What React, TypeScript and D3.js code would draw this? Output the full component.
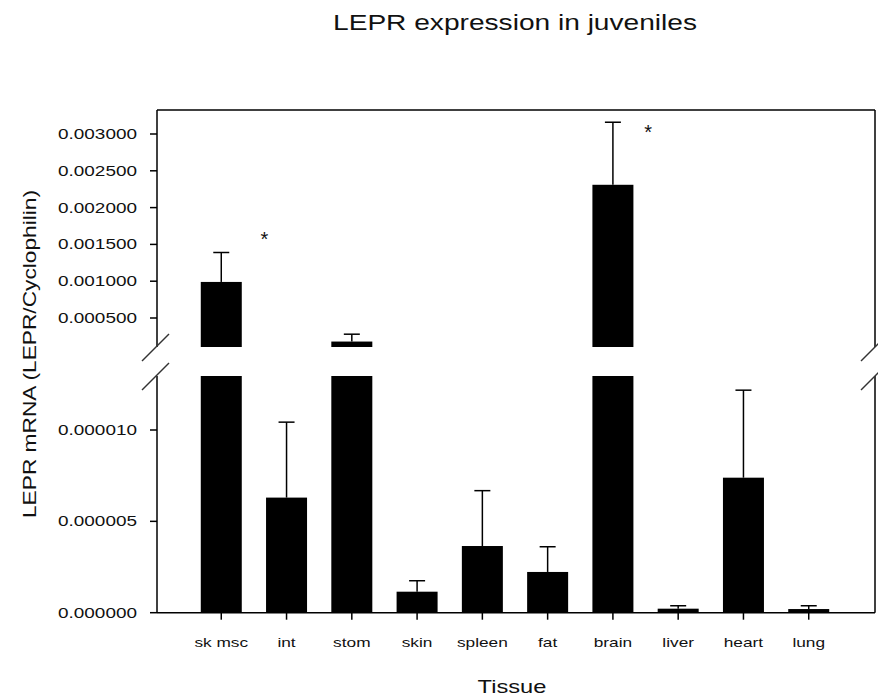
import React from "react";
import * as d3 from "d3";

// Tissue categories and LEPR/Cyclophilin ratios (mean and SEM)
const tissues = ["sk msc", "int", "stom", "skin", "spleen", "fat", "brain", "liver", "heart", "lung"];
const means = [0.00099, 6.3e-6, 0.00018, 1.15e-6, 3.65e-6, 2.23e-6, 0.00231, 0.22e-6, 7.39e-6, 0.2e-6];
const sems = [0.0004, 4.13e-6, 0.0001, 0.6e-6, 3.03e-6, 1.38e-6, 0.00085, 0.16e-6, 4.79e-6, 0.18e-6];

// Axis ticks for the two segments of the broken y axis
const upperTicks = [0.0005, 0.001, 0.0015, 0.002, 0.0025, 0.003];
const upperTickLabels = ["0.000500", "0.001000", "0.001500", "0.002000", "0.002500", "0.003000"];
const lowerTicks = [0, 0.000005, 0.00001];
const lowerTickLabels = ["0.000000", "0.000005", "0.000010"];

// Significance markers: category, horizontal offset in steps, value height
const starCats = ["sk msc", "brain"];
const starOffsets = [0.66, 0.54];
const starValues = [0.00164, 0.00309];

const W = 878;
const H = 698;
const left = 157;
const right = 875;
const top = 110;
const upperBottom = 347;
const lowerTop = 376;
const baseY = 612.7;
const font = "'Liberation Sans', Arial, sans-serif";
const stretch = 1.28;

export default function App() {
  const x = d3.scalePoint<string>().domain(tissues).range([156, 874]).padding(1);
  const yUpper = d3.scaleLinear().domain([0, 0.003]).range([354.8, 134]);
  const yLower = d3.scaleLinear().domain([0, 0.00001]).range([baseY, 430]);
  const upperMin = yUpper.invert(upperBottom);
  const lowerMax = yLower.invert(lowerTop);
  const barW = 41;
  const capW = 16;

  const slash = (cx: number, cy: number, key: string) => (
    <line key={key} x1={cx - 14} y1={cy + 14} x2={cx + 13} y2={cy - 13} stroke="#333" strokeWidth={1.5} />
  );

  return (
    <svg width={W} height={H} style={{ position: "absolute", left: 0, top: 0, background: "#fff" }}>
      <rect x={0} y={0} width={W} height={H} fill="#fff" />
      {/* Title */}
      <text x={515} y={30} fontFamily={font} fontSize={22} fill="#111" textAnchor="middle"
        textLength={364} lengthAdjust="spacingAndGlyphs">
        LEPR expression in juveniles
      </text>

      {/* Bars */}
      {tissues.map((t, i) => {
        const v = means[i];
        const e = v + sems[i];
        const cx = x(t)!;
        const parts: React.ReactNode[] = [];
        // lower segment
        const lTop = v > lowerMax ? lowerTop : yLower(v);
        parts.push(<rect key="l" x={cx - barW / 2} y={lTop} width={barW} height={baseY - lTop} fill="#000" />);
        // upper segment
        if (v > upperMin) {
          const uTop = yUpper(v);
          parts.push(<rect key="u" x={cx - barW / 2} y={uTop} width={barW} height={upperBottom - uTop} fill="#000" />);
          const eY = yUpper(e);
          parts.push(<line key="s" x1={cx} x2={cx} y1={uTop} y2={eY} stroke="#000" strokeWidth={1.5} />);
          parts.push(<line key="c" x1={cx - capW / 2} x2={cx + capW / 2} y1={eY} y2={eY} stroke="#000" strokeWidth={1.5} />);
        } else {
          const eY = yLower(e);
          parts.push(<line key="s" x1={cx} x2={cx} y1={lTop} y2={eY} stroke="#000" strokeWidth={1.5} />);
          parts.push(<line key="c" x1={cx - capW / 2} x2={cx + capW / 2} y1={eY} y2={eY} stroke="#000" strokeWidth={1.5} />);
        }
        return <g key={t}>{parts}</g>;
      })}

      {/* Frame and broken axes */}
      <g stroke="#000" strokeWidth={1.5} fill="none">
        <line x1={left} x2={right} y1={top} y2={top} />
        <line x1={left} x2={left} y1={top} y2={upperBottom} />
        <line x1={right} x2={right} y1={top} y2={upperBottom} />
        <line x1={left} x2={left} y1={lowerTop} y2={baseY} />
        <line x1={right} x2={right} y1={lowerTop} y2={baseY} />
        <line x1={left} x2={right} y1={baseY} y2={baseY} />
      </g>
      {slash(156, upperBottom, "a")}
      {slash(156, lowerTop, "b")}
      {slash(875, upperBottom, "c")}
      {slash(875, lowerTop, "d")}

      {/* Y ticks */}
      {upperTicks.map((v, i) => (
        <g key={"ut" + i}>
          <line x1={left - 7} x2={left} y1={yUpper(v)} y2={yUpper(v)} stroke="#000" strokeWidth={1.5} />
          <text x={137} y={yUpper(v) + 5} fontFamily={font} fontSize={14} fill="#111" textAnchor="end"
            textLength={79} lengthAdjust="spacingAndGlyphs">
            {upperTickLabels[i]}
          </text>
        </g>
      ))}
      {lowerTicks.map((v, i) => (
        <g key={"lt" + i}>
          <line x1={left - 7} x2={left} y1={yLower(v)} y2={yLower(v)} stroke="#000" strokeWidth={1.5} />
          <text x={137} y={yLower(v) + 5} fontFamily={font} fontSize={14} fill="#111" textAnchor="end"
            textLength={79} lengthAdjust="spacingAndGlyphs">
            {lowerTickLabels[i]}
          </text>
        </g>
      ))}

      {/* X ticks and labels */}
      {tissues.map((t) => (
        <g key={"xt" + t}>
          <line x1={x(t)!} x2={x(t)!} y1={baseY} y2={baseY + 7} stroke="#000" strokeWidth={1.5} />
          <text transform={`translate(${x(t)!},647) scale(${stretch},1)`} fontFamily={font} fontSize={13.5}
            fill="#111" textAnchor="middle">
            {t}
          </text>
        </g>
      ))}

      {/* Significance stars */}
      {starCats.map((c, i) => (
        <text key={"st" + i} x={x(c)! + starOffsets[i] * x.step()} y={yUpper(starValues[i]) + 12}
          fontFamily={font} fontSize={20} fill="#111" textAnchor="middle">
          *
        </text>
      ))}

      {/* Axis titles */}
      <text transform={`translate(512,693) scale(${stretch},1)`} fontFamily={font} fontSize={18.5}
        fill="#111" textAnchor="middle">
        Tissue
      </text>
      <text transform={`translate(36,354) rotate(-90)`} fontFamily={font} fontSize={19} fill="#111"
        textAnchor="middle" textLength={328} lengthAdjust="spacingAndGlyphs">
        LEPR mRNA (LEPR/Cyclophilin)
      </text>
    </svg>
  );
}
